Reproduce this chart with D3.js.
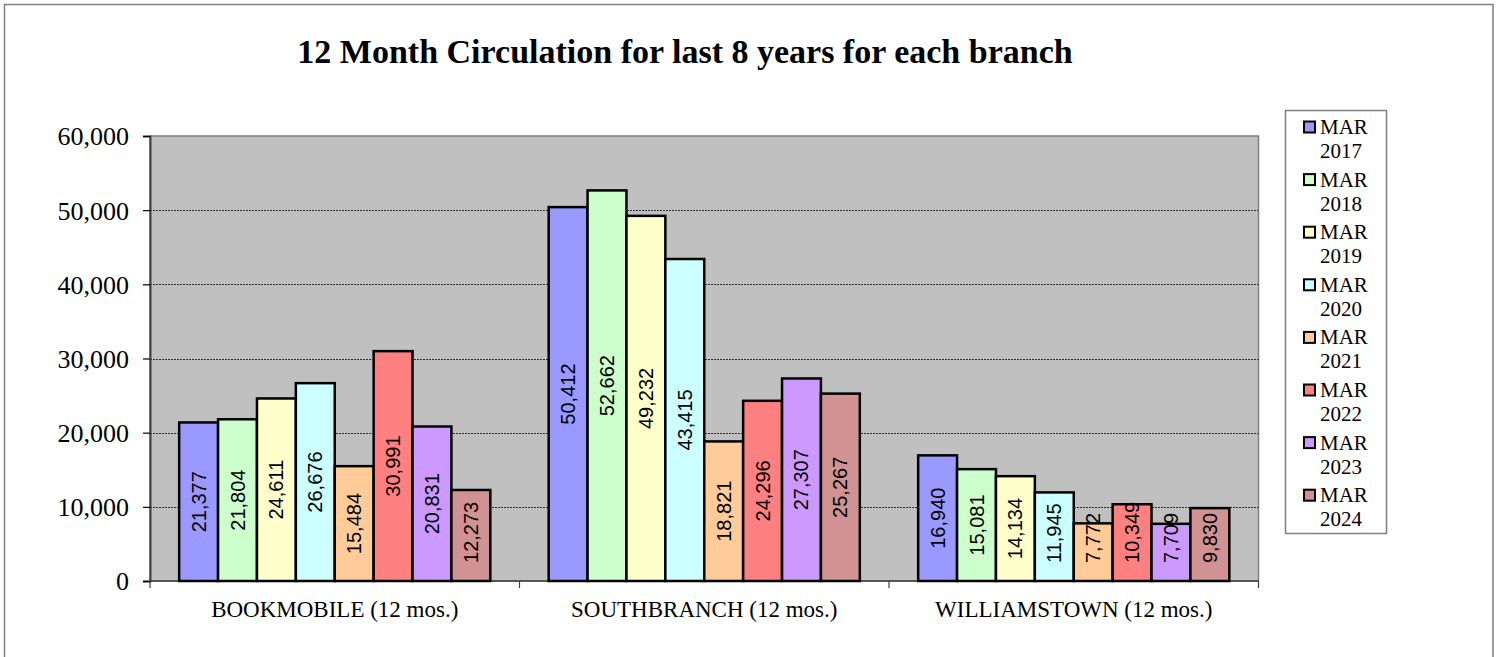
<!DOCTYPE html>
<html>
<head>
<meta charset="utf-8">
<script src="https://cdn.jsdelivr.net/npm/d3@7"></script>
<style>
  html, body { margin: 0; padding: 0; background: #ffffff; }
  svg { display: block; }
</style>
</head>
<body>
<svg id="chart" width="1501" height="657"></svg>
<script>
const categories = ["BOOKMOBILE (12 mos.)", "SOUTHBRANCH (12 mos.)", "WILLIAMSTOWN (12 mos.)"];
const seriesNames = ["MAR 2017", "MAR 2018", "MAR 2019", "MAR 2020", "MAR 2021", "MAR 2022", "MAR 2023", "MAR 2024"];
const seriesColors = ["#9999ff", "#ccffcc", "#ffffcc", "#ccffff", "#ffcc99", "#ff8080", "#cc99ff", "#d09292"];
const mar2017 = [21377, 50412, 16940];
const mar2018 = [21804, 52662, 15081];
const mar2019 = [24611, 49232, 14134];
const mar2020 = [26676, 43415, 11945];
const mar2021 = [15484, 18821, 7772];
const mar2022 = [30991, 24296, 10349];
const mar2023 = [20831, 27307, 7709];
const mar2024 = [12273, 25267, 9830];
const yTicks = [0, 10000, 20000, 30000, 40000, 50000, 60000];
const titleText = "12 Month Circulation for last 8 years for each branch";

const seriesValues = [mar2017, mar2018, mar2019, mar2020, mar2021, mar2022, mar2023, mar2024];

const svg = d3.select("#chart");

// outer frame
svg.append("rect")
  .attr("x", 4.5).attr("y", 4.5)
  .attr("width", 1488.5).attr("height", 700)
  .attr("fill", "#ffffff").attr("stroke", "#808080").attr("stroke-width", 1.5);

const plot = { left: 150, top: 136, right: 1258.5, bottom: 581 };
const pw = plot.right - plot.left, ph = plot.bottom - plot.top;

// title
svg.append("text")
  .attr("x", 685).attr("y", 63)
  .attr("text-anchor", "middle")
  .attr("font-family", "'Liberation Serif', 'Times New Roman', serif")
  .attr("font-weight", "bold")
  .attr("font-size", 34)
  .attr("fill", "#000")
  .text(titleText);

const g = svg.append("g").attr("transform", `translate(${plot.left},${plot.top})`);

// plot background
g.append("rect")
  .attr("x", 0).attr("y", 0).attr("width", pw).attr("height", ph)
  .attr("fill", "#c0c0c0").attr("stroke", "#808080").attr("stroke-width", 1.5);

const y = d3.scaleLinear().domain([0, 60000]).range([ph, 0]);
const x0 = d3.scaleBand().domain(categories).range([0, pw])
  .paddingInner(1.5 / 9.5).paddingOuter(0.75 / 9.5);
const x1 = d3.scaleBand().domain(seriesNames).range([0, x0.bandwidth()]).padding(0);

// gridlines
g.append("g").selectAll("line")
  .data(yTicks.filter(t => t > 0 && t < 60000))
  .join("line")
  .attr("x1", 0).attr("x2", pw)
  .attr("y1", d => Math.round(y(d)) + 0.5).attr("y2", d => Math.round(y(d)) + 0.5)
  .attr("stroke", "#303030").attr("stroke-width", 1)
  .attr("stroke-dasharray", "2,1");

// y axis
const yAxis = d3.axisLeft(y).tickValues(yTicks).tickSize(7).tickPadding(14)
  .tickFormat(d3.format(","));
const yg = g.append("g").call(yAxis);
yg.select(".domain").attr("stroke", "#404040").attr("stroke-width", 2);
yg.selectAll(".tick line").attr("stroke", "#000").attr("stroke-width", 1.2);
yg.selectAll(".tick text")
  .attr("font-family", "'Liberation Serif', 'Times New Roman', serif")
  .attr("font-size", 26).attr("fill", "#000").attr("dy", "0.34em");

// x axis
const xg = g.append("g").attr("transform", `translate(0,${ph})`);
xg.append("line").attr("x1", 0).attr("x2", pw).attr("y1", 0).attr("y2", 0)
  .attr("stroke", "#404040").attr("stroke-width", 1.5);
const boundaries = [0].concat(categories.map(c => x0(c) - x0.step() * x0.paddingOuter() + x0.step()));
xg.selectAll("line.tk").data(boundaries).join("line").attr("class", "tk")
  .attr("x1", d => d).attr("x2", d => d).attr("y1", 0).attr("y2", 7)
  .attr("stroke", "#404040").attr("stroke-width", 1.2);
xg.selectAll("text").data(categories).join("text")
  .attr("x", d => x0(d) + x0.bandwidth() / 2)
  .attr("y", 36)
  .attr("text-anchor", "middle")
  .attr("font-family", "'Liberation Serif', 'Times New Roman', serif")
  .attr("font-size", 23).attr("fill", "#000")
  .text(d => d);

// bars
const barData = [];
categories.forEach((c, ci) => {
  seriesNames.forEach((s, si) => {
    barData.push({ cat: c, series: s, value: seriesValues[si][ci], color: seriesColors[si] });
  });
});

const bars = g.append("g");
bars.selectAll("rect").data(barData).join("rect")
  .attr("x", d => x0(d.cat) + x1(d.series))
  .attr("y", d => y(d.value))
  .attr("width", x1.bandwidth())
  .attr("height", d => y(0) - y(d.value))
  .attr("fill", d => d.color)
  .attr("stroke", "#000").attr("stroke-width", 2.5);

// data labels
const labels = g.append("g");
labels.selectAll("text").data(barData).join("text")
  .attr("font-family", "'Liberation Sans', Arial, sans-serif")
  .attr("font-size", 20).attr("fill", "#000")
  .attr("text-anchor", "middle")
  .attr("dominant-baseline", "central")
  .text(d => d3.format(",")(d.value))
  .each(function(d) {
    const len = this.getComputedTextLength();
    const mid = (y(d.value) + y(0)) / 2;
    const cy = Math.min(mid, y(0) - 18 - len / 2);
    const cx = x0(d.cat) + x1(d.series) + x1.bandwidth() / 2;
    d3.select(this).attr("transform", `translate(${cx},${cy}) rotate(-90)`);
  });

// legend
const lg = svg.append("g");
lg.append("rect")
  .attr("x", 1285.5).attr("y", 110.5).attr("width", 101).attr("height", 423)
  .attr("fill", "#fff").attr("stroke", "#808080").attr("stroke-width", 1.5);
seriesNames.forEach((s, i) => {
  const cy = 127 + i * 52.6;
  const parts = s.split(" ");
  lg.append("rect")
    .attr("x", 1304).attr("y", cy - 5.5).attr("width", 11).attr("height", 11)
    .attr("fill", seriesColors[i]).attr("stroke", "#000").attr("stroke-width", 2);
  lg.append("text")
    .attr("x", 1320).attr("y", cy + 7)
    .attr("font-family", "'Liberation Serif', 'Times New Roman', serif")
    .attr("font-size", 21).attr("fill", "#000").text(parts[0]);
  lg.append("text")
    .attr("x", 1320).attr("y", cy + 31)
    .attr("font-family", "'Liberation Serif', 'Times New Roman', serif")
    .attr("font-size", 21).attr("fill", "#000").text(parts[1]);
});
</script>
</body>
</html>
